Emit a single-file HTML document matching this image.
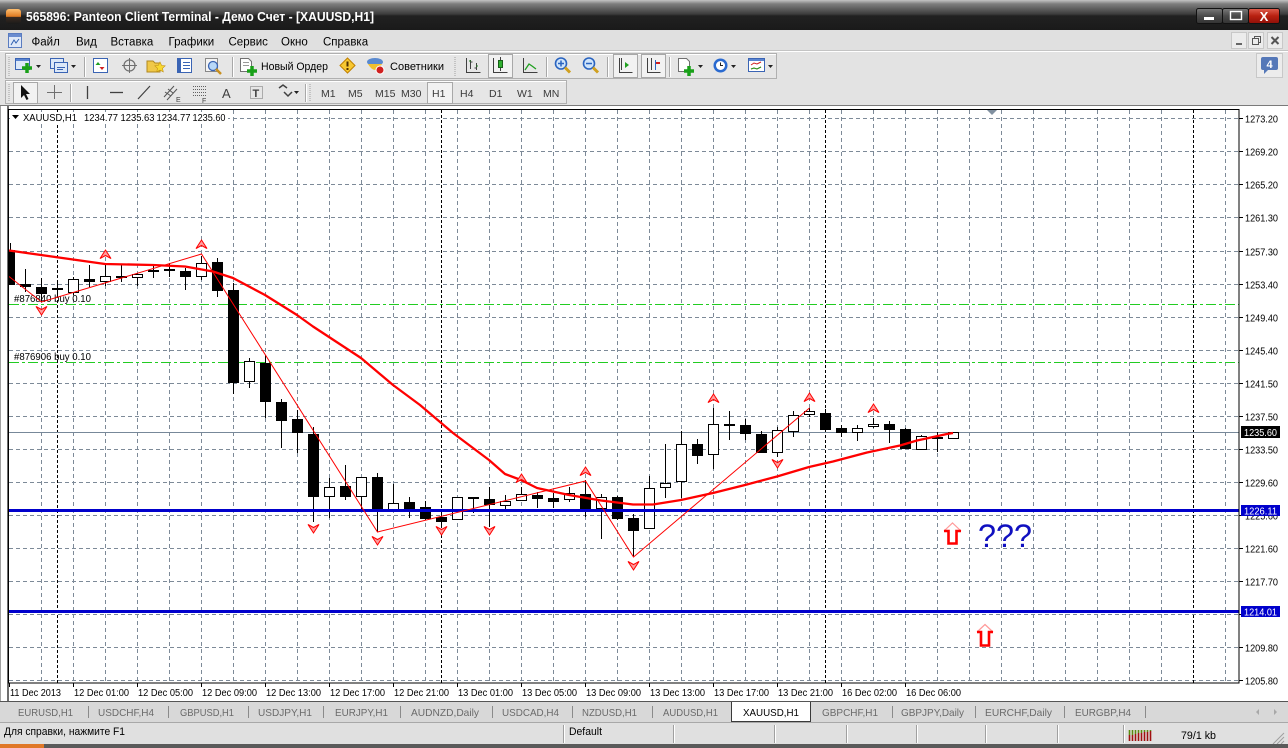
<!DOCTYPE html>
<html><head><meta charset="utf-8">
<style>
html,body{margin:0;padding:0;background:#e0e0e0;overflow:hidden;}
svg{display:block;font-family:"Liberation Sans","DejaVu Sans",sans-serif;}
</style></head><body>
<svg width="1288" height="748" viewBox="0 0 1288 748" xmlns="http://www.w3.org/2000/svg">
<defs>
<linearGradient id="tg" x1="0" y1="0" x2="0" y2="1">
<stop offset="0" stop-color="#c4c4c4"/><stop offset="0.13" stop-color="#7e7e7e"/><stop offset="0.47" stop-color="#3c3c3c"/><stop offset="0.53" stop-color="#212121"/><stop offset="1" stop-color="#1a1a1a"/>
</linearGradient>
<linearGradient id="ico" x1="0" y1="0" x2="0" y2="1">
<stop offset="0" stop-color="#ffc070"/><stop offset="0.5" stop-color="#e07a20"/><stop offset="0.55" stop-color="#3a2a20"/><stop offset="1" stop-color="#1a1a1a"/>
</linearGradient>
<linearGradient id="wb" x1="0" y1="0" x2="0" y2="1">
<stop offset="0" stop-color="#7a7a7a"/><stop offset="0.5" stop-color="#4a4a4a"/><stop offset="1" stop-color="#333"/>
</linearGradient>
<linearGradient id="wr" x1="0" y1="0" x2="0" y2="1">
<stop offset="0" stop-color="#e06050"/><stop offset="0.5" stop-color="#b82010"/><stop offset="1" stop-color="#901008"/>
</linearGradient>
<path id="fu" d="M0,0 L5.5,8.5 L0,5.5 L-5.5,8.5 Z" fill="#ff9c9c" stroke="#ff0000" stroke-width="1"/>
<path id="fd" d="M0,9 L5.5,0.5 L0,3.5 L-5.5,0.5 Z" fill="#ff9c9c" stroke="#ff0000" stroke-width="1"/>
</defs>

<!-- Title bar -->
<rect x="0" y="0" width="1288" height="30" fill="url(#tg)"/>
<rect x="6" y="9" width="15" height="15" rx="3" fill="url(#ico)"/>
<text x="26" y="21" font-size="12.5" font-weight="bold" fill="#ffffff" textLength="348" lengthAdjust="spacingAndGlyphs">565896: Panteon Client Terminal - Демо Счет - [XAUUSD,H1]</text>
<rect x="1196.5" y="8.5" width="26" height="15" rx="2" fill="url(#wb)" stroke="#111"/>
<rect x="1204" y="17" width="10" height="3" fill="#fff"/>
<rect x="1222.5" y="8.5" width="26" height="15" rx="2" fill="url(#wb)" stroke="#111"/>
<rect x="1230.5" y="11.5" width="11" height="8" fill="none" stroke="#fff" stroke-width="1.4"/>
<rect x="1248.5" y="8.5" width="31" height="15" rx="2" fill="url(#wr)" stroke="#111"/>
<text x="1264" y="21" font-size="13" font-weight="bold" fill="#fff" text-anchor="middle">X</text>

<!-- Menu bar -->
<rect x="0" y="30" width="1288" height="21" fill="#e0e0e0"/>
<line x1="0" y1="50.5" x2="1288" y2="50.5" stroke="#c4c4c4"/>
<line x1="0" y1="51.5" x2="1288" y2="51.5" stroke="#ffffff"/>
<rect x="8.5" y="33.5" width="13" height="14" fill="#dfe8f8" stroke="#5a7cc0"/>
<rect x="9" y="34" width="12" height="3" fill="#6a8cd0"/>
<path d="M11 45 L14 40 L16 43 L19 39" fill="none" stroke="#3060b0"/>
<g font-size="11.5" fill="#000">
<text x="31.5" y="45.5">Файл</text>
<text x="76" y="45.5">Вид</text>
<text x="110.5" y="45.5">Вставка</text>
<text x="168.5" y="45.5">Графики</text>
<text x="228.5" y="45.5">Сервис</text>
<text x="281" y="45.5">Окно</text>
<text x="323" y="45.5">Справка</text>
</g>
<rect x="1231.5" y="32.5" width="15" height="16" fill="#ececec" stroke="#c8c8c8"/>
<rect x="1236" y="43" width="6" height="2" fill="#666"/>
<rect x="1248.5" y="32.5" width="15" height="16" fill="#ececec" stroke="#c8c8c8"/>
<rect x="1252.5" y="38.5" width="6" height="6" fill="none" stroke="#555"/>
<path d="M1254.5 38.5V36.5H1260.5V42.5H1258.5" fill="none" stroke="#555"/>
<rect x="1267.5" y="32.5" width="15" height="16" fill="#ececec" stroke="#c8c8c8"/>
<path d="M1271.5 37L1278.5 44M1278.5 37L1271.5 44" stroke="#555" stroke-width="2"/>

<!-- Toolbars background -->
<rect x="0" y="52" width="1288" height="53" fill="#e3e3e3"/>
<line x1="0" y1="105.5" x2="1288" y2="105.5" stroke="#7a7a7a"/>
<rect x="5.5" y="53.5" width="771" height="25" fill="#e6e6e6" stroke="#b0b0b0"/>
<line x1="6" y1="54.5" x2="776" y2="54.5" stroke="#fff"/>
<rect x="5.5" y="80.5" width="561" height="23" fill="#e6e6e6" stroke="#b0b0b0"/>
<line x1="6" y1="81.5" x2="566" y2="81.5" stroke="#fff"/>
<!-- grips -->
<path d="M9 57V76M9 84V101M455 57V76M310 84V101" stroke="#a0a0a0" stroke-dasharray="1,1"/>

<!-- toolbar 1 icons -->
<rect x="15.5" y="58.5" width="14" height="11" fill="#dce8f8" stroke="#3a64b4"/>
<rect x="16" y="59" width="13" height="2" fill="#5a84d0"/>
<path d="M22 68h10M27 63v10" stroke="#18a018" stroke-width="3.5"/>
<path d="M36 65h5l-2.5 3z" fill="#222"/>
<rect x="50.5" y="58.5" width="13" height="10" fill="#dce8f8" stroke="#3a64b4"/>
<rect x="54.5" y="62.5" width="13" height="10" fill="#dce8f8" stroke="#3a64b4"/>
<path d="M57 67.5h8M57 69.5h6" stroke="#3a64b4"/>
<path d="M71 65h5l-2.5 3z" fill="#222"/>
<path d="M84.5 57v20" stroke="#a8a8a8"/><path d="M85.5 57v20" stroke="#fff"/>
<rect x="93.5" y="58.5" width="14" height="14" fill="#fff" stroke="#3a64b4"/>
<path d="M98 62l-2.5 3h5z" fill="#20a020"/><path d="M102 70l-2.5-3h5z" fill="#d02020"/>
<circle cx="129.5" cy="65.5" r="5.5" fill="none" stroke="#707070" stroke-width="1.2"/>
<path d="M129.5 58v15M122 65.5h15" stroke="#707070"/>
<path d="M147 61h6l2 2h5v9h-13z" fill="#f0c848" stroke="#b08820"/>
<path d="M160 62l1.6 3.4 3.6.4-2.7 2.5.8 3.6-3.3-1.8-3.3 1.8.8-3.6-2.7-2.5 3.6-.4z" fill="#f8d830" stroke="#c09010" stroke-width=".6"/>
<rect x="177.5" y="58.5" width="14" height="14" fill="#fff" stroke="#3a64b4"/>
<rect x="178" y="59" width="3" height="13" fill="#3a64b4"/>
<path d="M183 62.5h7M183 65.5h7M183 68.5h7" stroke="#3a64b4"/>
<rect x="205.5" y="58.5" width="12" height="13" fill="#f4f4f4" stroke="#888"/>
<circle cx="213" cy="66" r="4.5" fill="#b8d8f8" stroke="#3a64b4" stroke-width="1.3"/>
<path d="M216 69l5 5" stroke="#c89020" stroke-width="2.5"/>
<path d="M232.5 57v20" stroke="#a8a8a8"/><path d="M233.5 57v20" stroke="#fff"/>
<path d="M240.5 58.5h8l3 3v10h-11z" fill="#fff" stroke="#707070"/>
<path d="M243 62.5h6M243 65.5h6" stroke="#999"/>
<path d="M247 71h10M252 66v10" stroke="#18a018" stroke-width="3.5"/>
<text x="261" y="70" font-size="11" fill="#000" textLength="67" lengthAdjust="spacingAndGlyphs">Новый Ордер</text>
<path d="M347.5 58l7.5 7.5-7.5 7.5-7.5-7.5z" fill="#f8c830" stroke="#c08000"/>
<path d="M347.5 61.5v5" stroke="#503000" stroke-width="2"/><rect x="346.5" y="68" width="2" height="2" fill="#503000"/>
<ellipse cx="375" cy="62" rx="8" ry="4" fill="#5a8ad0"/>
<path d="M368 64q7 12 14 0z" fill="#f0c030"/>
<circle cx="380" cy="70" r="4" fill="#d02020" stroke="#fff"/>
<text x="390" y="70" font-size="11" fill="#000" textLength="54" lengthAdjust="spacingAndGlyphs">Советники</text>
<!-- chart type -->
<path d="M466.5 58v14.5h14M470.5 60v9M470.5 62h2M476.5 63v7M474.5 68h2" fill="none" stroke="#404040"/>
<path d="M471 61h-2M476 66h2" stroke="#208020"/>
<rect x="488.5" y="54.5" width="24" height="23" fill="#f2f2f2" stroke="#a8a8a8"/>
<path d="M493.5 58v14.5h14" fill="none" stroke="#404040"/>
<path d="M500.5 57v14" stroke="#404040"/><rect x="498.5" y="60.5" width="4" height="7" fill="#30b030" stroke="#186018"/>
<path d="M523.5 58v14.5h14" fill="none" stroke="#404040"/>
<path d="M525 70l4-6 3 2 4 3" fill="none" stroke="#20a020" stroke-width="1.3"/>
<path d="M546.5 57v20" stroke="#a8a8a8"/><path d="M547.5 57v20" stroke="#fff"/>
<circle cx="561" cy="63.5" r="5.5" fill="#cfe4fa" stroke="#2a64c0" stroke-width="1.6"/>
<path d="M558 63.5h6M561 60.5v6" stroke="#2a64c0" stroke-width="1.5"/>
<path d="M565 67.5l5 5" stroke="#d0a020" stroke-width="3"/>
<circle cx="589" cy="63.5" r="5.5" fill="#cfe4fa" stroke="#2a64c0" stroke-width="1.6"/>
<path d="M586 63.5h6" stroke="#2a64c0" stroke-width="1.5"/>
<path d="M593 67.5l5 5" stroke="#d0a020" stroke-width="3"/>
<path d="M607.5 57v20" stroke="#a8a8a8"/><path d="M608.5 57v20" stroke="#fff"/>
<rect x="613.5" y="54.5" width="24" height="23" fill="#f2f2f2" stroke="#a8a8a8"/>
<path d="M619.5 58v14.5h13M621.5 58v12" fill="none" stroke="#404040"/>
<path d="M625 62v6l4-3z" fill="#20a020"/>
<rect x="641.5" y="54.5" width="24" height="23" fill="#f2f2f2" stroke="#a8a8a8"/>
<path d="M647.5 58v14.5h13M651.5 58v12" fill="none" stroke="#404040"/>
<path d="M655.5 60v10" stroke="#2a64c0"/><path d="M656 63h4" stroke="#d02020" stroke-width="2"/>
<path d="M669.5 57v20" stroke="#a8a8a8"/><path d="M670.5 57v20" stroke="#fff"/>
<path d="M678.5 58.5h8l3 3v10h-11z" fill="#fff" stroke="#707070"/>
<path d="M684 71h10M689 66v10" stroke="#18a018" stroke-width="3.5"/>
<path d="M698 65h5l-2.5 3z" fill="#222"/>
<circle cx="720.5" cy="65.5" r="7" fill="#2a6ad0"/>
<circle cx="720.5" cy="65.5" r="4.5" fill="#fff"/>
<path d="M720.5 62.5v3h2.5" stroke="#222" fill="none"/>
<path d="M731 65h5l-2.5 3z" fill="#222"/>
<rect x="748.5" y="58.5" width="16" height="13" fill="#fff" stroke="#3a64b4"/>
<rect x="749" y="59" width="15" height="2" fill="#5a84d0"/>
<path d="M751 65l3-2 3 1 4-2M751 69l3-1 3 1 4-2" fill="none" stroke="#d02020"/>
<path d="M751 69l3-1 3 1 4-2" fill="none" stroke="#20a020"/>
<path d="M768 65h5l-2.5 3z" fill="#222"/>

<!-- toolbar 2 -->
<rect x="13.5" y="82.5" width="24" height="21" fill="#f2f2f2" stroke="#a8a8a8"/>
<path d="M21 85v13l3-3 2.5 5 2-1-2.5-5h4z" fill="#111"/>
<path d="M54.5 85v14M47 92.5h15" stroke="#707070"/>
<path d="M70.5 84v18" stroke="#a8a8a8"/><path d="M71.5 84v18" stroke="#fff"/>
<path d="M87.5 86v13" stroke="#404040" stroke-width="1.3"/>
<path d="M110 92.5h13" stroke="#404040" stroke-width="1.3"/>
<path d="M138 99l12-13" stroke="#404040" stroke-width="1.2"/>
<path d="M164 97l10-11M167 100l10-11M165 92l6 4M168 89l5 4" stroke="#555" stroke-width="1"/>
<text x="176" y="102" font-size="7" fill="#404040">E</text>
<path d="M193 86.5h13M193 89.5h13M193 92.5h13M193 95.5h13" stroke="#606060" stroke-dasharray="1,1"/>
<text x="202" y="103" font-size="7" fill="#404040">F</text>
<text x="222" y="98" font-size="13" fill="#404040">A</text>
<rect x="250.5" y="86.5" width="12" height="12" fill="none" stroke="#707070" stroke-dasharray="1,1"/>
<text x="252.5" y="97" font-size="11" font-weight="bold" fill="#404040">T</text>
<path d="M279 88l4-3 4 3M284 92l4 4 4-4" fill="none" stroke="#404040" stroke-width="1.5"/>
<path d="M294 91h5l-2.5 3z" fill="#222"/>
<path d="M305.5 84v18" stroke="#a8a8a8"/><path d="M306.5 84v18" stroke="#fff"/>
<rect x="427.5" y="82.5" width="25" height="21" fill="#f2f2f2" stroke="#a8a8a8"/>
<g font-size="10.5" fill="#3a3a3a">
<text x="321" y="97">M1</text>
<text x="348" y="97">M5</text>
<text x="375" y="97">M15</text>
<text x="401" y="97">M30</text>
<text x="432" y="97">H1</text>
<text x="460" y="97">H4</text>
<text x="489" y="97">D1</text>
<text x="517" y="97">W1</text>
<text x="543" y="97">MN</text>
</g>
<!-- notify -->
<rect x="1256.5" y="53.5" width="26" height="24" fill="#ececec" stroke="#c8c8c8"/>
<rect x="1261" y="57" width="17" height="13" rx="2" fill="#5578b8"/>
<path d="M1264 70v4l4-4z" fill="#5578b8"/>
<text x="1269.5" y="68" font-size="11" font-weight="bold" fill="#fff" text-anchor="middle">4</text>

<!-- Chart window -->
<rect x="0" y="106" width="1288" height="595" fill="#ffffff"/>
<line x1="0.5" y1="106" x2="0.5" y2="701" stroke="#a0a0a0"/>
<rect x="7" y="106" width="2" height="595" fill="#6e6e6e"/>

<!-- grid -->
<path d="M9 118.5H1239M9 151.5H1239M9 184.5H1239M9 217.5H1239M9 251.5H1239M9 284.5H1239M9 317.5H1239M9 350.5H1239M9 383.5H1239M9 416.5H1239M9 449.5H1239M9 482.5H1239M9 515.5H1239M9 548.5H1239M9 581.5H1239M9 614.5H1239M9 647.5H1239M9 680.5H1239" stroke="#7d8a98" stroke-dasharray="4,3" fill="none"/>
<path d="M41.5 110V683M73.5 110V683M105.5 110V683M137.5 110V683M169.5 110V683M201.5 110V683M233.5 110V683M265.5 110V683M297.5 110V683M329.5 110V683M361.5 110V683M393.5 110V683M425.5 110V683M457.5 110V683M489.5 110V683M521.5 110V683M553.5 110V683M585.5 110V683M617.5 110V683M649.5 110V683M681.5 110V683M713.5 110V683M745.5 110V683M777.5 110V683M809.5 110V683M841.5 110V683M873.5 110V683M905.5 110V683M937.5 110V683M969.5 110V683M1001.5 110V683M1033.5 110V683M1065.5 110V683M1097.5 110V683M1129.5 110V683M1161.5 110V683M1225.5 110V683" stroke="#7d8a98" stroke-dasharray="4,3" fill="none"/>
<path d="M57.5 110V683M441.5 110V683M825.5 110V683M1193.5 110V683" stroke="#000" stroke-dasharray="3,2" fill="none"/>

<!-- header text -->
<rect x="10" y="112" width="218" height="12" fill="#fff"/>
<path d="M12 115h7l-3.5 4z" fill="#000"/>
<g font-size="10" fill="#000">
<text x="23" y="121" textLength="54" lengthAdjust="spacingAndGlyphs">XAUUSD,H1</text>
<text x="84" y="121" textLength="34" lengthAdjust="spacingAndGlyphs">1234.77</text>
<text x="120.5" y="121" textLength="34" lengthAdjust="spacingAndGlyphs">1235.63</text>
<text x="156.5" y="121" textLength="34" lengthAdjust="spacingAndGlyphs">1234.77</text>
<text x="192.5" y="121" textLength="33" lengthAdjust="spacingAndGlyphs">1235.60</text>
</g>
<path d="M987 110h10l-5 5z" fill="#8090a0"/>

<!-- current price line -->
<path d="M9 432.5H1239" stroke="#778899"/>
<!-- green order lines -->
<path d="M9 304.5H1239M9 362.5H1239" stroke="#22cc22" stroke-dasharray="10,3,3,3"/>
<text x="14" y="302" font-size="10" fill="#000" textLength="77" lengthAdjust="spacingAndGlyphs">#876840 buy 0.10</text>
<text x="14" y="360" font-size="10" fill="#000" textLength="77" lengthAdjust="spacingAndGlyphs">#876906 buy 0.10</text>

<!-- candles: wicks -->
<path d="M10.5 243V285M25.5 269V292M41.5 278V302M57.5 283V297M73.5 277V295M89.5 265V287M105.5 264V286M121.5 264V282M137.5 273V286M153.5 265V278M169.5 263V277M185.5 268V290M201.5 256V280M217.5 258V297M233.5 283V394M249.5 358V388M265.5 355V418M281.5 399V448M297.5 410V453M313.5 427V522M329.5 478V518M345.5 465V500M361.5 477V510M377.5 473V532M393.5 484V512M409.5 497V518M425.5 501V520M441.5 513V526M457.5 497V520M473.5 497V513M489.5 487V527M505.5 495V510M521.5 487V501M537.5 492V508M553.5 493V508M569.5 487V502M585.5 480V517M601.5 494V539M617.5 496V520M633.5 514V557M649.5 476V529M665.5 444V498M681.5 431V498M697.5 439V464M713.5 408V469M729.5 411V440M745.5 419V440M761.5 431V453M777.5 427V457M793.5 411V437M809.5 408V417M825.5 409V430M841.5 425V437M857.5 425V441M873.5 418V428M889.5 421V443M905.5 428V449M921.5 435V450M937.5 432V452M953.5 432V439" stroke="#000" fill="none"/>
<!-- black bodies -->
<g fill="#000">
<rect x="9" y="250" width="6" height="35"/>
<rect x="20" y="284" width="11" height="3"/>
<rect x="36" y="287" width="11" height="7"/>
<rect x="52" y="288" width="11" height="2"/>
<rect x="84" y="279" width="11" height="3"/>
<rect x="116" y="276" width="11" height="2"/>
<rect x="164" y="269" width="11" height="2"/>
<rect x="180" y="271" width="11" height="6"/>
<rect x="212" y="262" width="11" height="29"/>
<rect x="228" y="290" width="11" height="93"/>
<rect x="260" y="363" width="11" height="39"/>
<rect x="276" y="402" width="11" height="19"/>
<rect x="292" y="419" width="11" height="14"/>
<rect x="308" y="434" width="11" height="63"/>
<rect x="340" y="486" width="11" height="11"/>
<rect x="372" y="477" width="11" height="35"/>
<rect x="404" y="502" width="11" height="7"/>
<rect x="420" y="507" width="11" height="12"/>
<rect x="436" y="517" width="11" height="5"/>
<rect x="468" y="497" width="11" height="2"/>
<rect x="484" y="499" width="11" height="6"/>
<rect x="532" y="495" width="11" height="4"/>
<rect x="548" y="498" width="11" height="4"/>
<rect x="580" y="494" width="11" height="16"/>
<rect x="612" y="497" width="11" height="22"/>
<rect x="628" y="518" width="11" height="13"/>
<rect x="692" y="444" width="11" height="12"/>
<rect x="724" y="424" width="11" height="2"/>
<rect x="740" y="425" width="11" height="9"/>
<rect x="756" y="434" width="11" height="19"/>
<rect x="820" y="413" width="11" height="17"/>
<rect x="836" y="428" width="11" height="5"/>
<rect x="884" y="424" width="11" height="6"/>
<rect x="900" y="429" width="11" height="20"/>
<rect x="932" y="437" width="11" height="2"/>
</g>
<!-- white bodies -->
<g fill="#fff" stroke="#000">
<rect x="68.5" y="279.5" width="10" height="13"/>
<rect x="100.5" y="276.5" width="10" height="5"/>
<rect x="132.5" y="274.5" width="10" height="3"/>
<rect x="148.5" y="270.5" width="10" height="1"/>
<rect x="196.5" y="263.5" width="10" height="13"/>
<rect x="244.5" y="361.5" width="10" height="20"/>
<rect x="324.5" y="487.5" width="10" height="9"/>
<rect x="356.5" y="477.5" width="10" height="19"/>
<rect x="388.5" y="503.5" width="10" height="7"/>
<rect x="452.5" y="497.5" width="10" height="22"/>
<rect x="500.5" y="501.5" width="10" height="4"/>
<rect x="516.5" y="494.5" width="10" height="6"/>
<rect x="564.5" y="493.5" width="10" height="6"/>
<rect x="596.5" y="497.5" width="10" height="11"/>
<rect x="644.5" y="488.5" width="10" height="40"/>
<rect x="660.5" y="483.5" width="10" height="4"/>
<rect x="676.5" y="444.5" width="10" height="37"/>
<rect x="708.5" y="424.5" width="10" height="30"/>
<rect x="772.5" y="430.5" width="10" height="22"/>
<rect x="788.5" y="415.5" width="10" height="16"/>
<rect x="804.5" y="411.5" width="10" height="3"/>
<rect x="852.5" y="428.5" width="10" height="4"/>
<rect x="868.5" y="424.5" width="10" height="2"/>
<rect x="916.5" y="436.5" width="10" height="13"/>
<rect x="948.5" y="432.5" width="10" height="6"/>
</g>

<!-- blue support lines -->
<rect x="9" y="509" width="1230" height="3" fill="#0000cc"/>
<rect x="9" y="610" width="1230" height="3" fill="#0000cc"/>

<!-- moving average -->
<path d="M9,250.5 L105,264 L153,265 L185,266.5 L213,271.5 L233,278 L265,295 L297,315 L313,326.5 L361,358 L393,385 L420,405 L453,433 L489,460 L505,474 L521,480 L537,488 L569,495 L601,500.5 L633,504.5 L653,504.5 L681,500 L713,493 L745,485 L777,476.5 L809,467 L833,461.5 L867,452.5 L900,445.5 L917,440.5 L947,434 L953,433" fill="none" stroke="#ff0000" stroke-width="2.3" stroke-linejoin="round"/>
<!-- zigzag -->
<path d="M9,276.5 L41.5,302 L201.5,254 L377.5,532 L585.5,481 L633.5,557 L809.5,408" fill="none" stroke="#ff0000" stroke-width="1"/>

<!-- fractals -->
<use href="#fu" x="105.5" y="250"/>
<use href="#fu" x="201.5" y="240"/>
<use href="#fu" x="521.5" y="474"/>
<use href="#fu" x="585.5" y="467"/>
<use href="#fu" x="713.5" y="394"/>
<use href="#fu" x="809.5" y="393"/>
<use href="#fu" x="873.5" y="404"/>
<use href="#fd" x="41.5" y="306"/>
<use href="#fd" x="313.5" y="524"/>
<use href="#fd" x="377.5" y="536"/>
<use href="#fd" x="441.5" y="526"/>
<use href="#fd" x="489.5" y="526"/>
<use href="#fd" x="633.5" y="561"/>
<use href="#fd" x="777.5" y="459"/>

<!-- hollow red arrows -->
<path d="M944,531 L952.5,523 L961,531" fill="none" stroke="#ff9a9a" stroke-width="1.2"/>
<path d="M944,531 H948.5 V543.5 H956.5 V531 H961" fill="none" stroke="#ff0000" stroke-width="2.6"/>
<path d="M977,632 L985,624.5 L993,632" fill="none" stroke="#ff9a9a" stroke-width="1.2"/>
<path d="M977,632 H981 V645.5 H989 V632 H993" fill="none" stroke="#ff0000" stroke-width="2.6"/>
<text x="978" y="547" font-size="32" fill="#1010c0" textLength="54" lengthAdjust="spacingAndGlyphs">???</text>

<!-- plot frame -->
<rect x="8.5" y="109.5" width="1230.5" height="573.5" fill="none" stroke="#000"/>

<!-- price axis -->
<path d="M1239 118.5h4M1239 151.5h4M1239 184.5h4M1239 217.5h4M1239 251.5h4M1239 284.5h4M1239 317.5h4M1239 350.5h4M1239 383.5h4M1239 416.5h4M1239 449.5h4M1239 482.5h4M1239 515.5h4M1239 548.5h4M1239 581.5h4M1239 614.5h4M1239 647.5h4M1239 680.5h4" stroke="#000"/>
<g font-size="10" fill="#000">
<text x="1245" y="122.5" textLength="33" lengthAdjust="spacingAndGlyphs">1273.20</text>
<text x="1245" y="155.5" textLength="33" lengthAdjust="spacingAndGlyphs">1269.20</text>
<text x="1245" y="188.5" textLength="33" lengthAdjust="spacingAndGlyphs">1265.20</text>
<text x="1245" y="221.5" textLength="33" lengthAdjust="spacingAndGlyphs">1261.30</text>
<text x="1245" y="255.5" textLength="33" lengthAdjust="spacingAndGlyphs">1257.30</text>
<text x="1245" y="288.5" textLength="33" lengthAdjust="spacingAndGlyphs">1253.40</text>
<text x="1245" y="321.5" textLength="33" lengthAdjust="spacingAndGlyphs">1249.40</text>
<text x="1245" y="354.5" textLength="33" lengthAdjust="spacingAndGlyphs">1245.40</text>
<text x="1245" y="387.5" textLength="33" lengthAdjust="spacingAndGlyphs">1241.50</text>
<text x="1245" y="420.5" textLength="33" lengthAdjust="spacingAndGlyphs">1237.50</text>
<text x="1245" y="453.5" textLength="33" lengthAdjust="spacingAndGlyphs">1233.50</text>
<text x="1245" y="486.5" textLength="33" lengthAdjust="spacingAndGlyphs">1229.60</text>
<text x="1245" y="519.5" textLength="33" lengthAdjust="spacingAndGlyphs">1225.60</text>
<text x="1245" y="552.5" textLength="33" lengthAdjust="spacingAndGlyphs">1221.60</text>
<text x="1245" y="585.5" textLength="33" lengthAdjust="spacingAndGlyphs">1217.70</text>
<text x="1245" y="651.5" textLength="33" lengthAdjust="spacingAndGlyphs">1209.80</text>
<text x="1245" y="684.5" textLength="33" lengthAdjust="spacingAndGlyphs">1205.80</text>
</g>
<rect x="1241" y="426" width="39" height="12" fill="#000"/>
<text x="1244" y="436" font-size="10" fill="#fff" textLength="33" lengthAdjust="spacingAndGlyphs">1235.60</text>
<rect x="1241" y="505" width="39" height="11" fill="#0000cc"/>
<text x="1244" y="514.5" font-size="10" fill="#fff" textLength="33" lengthAdjust="spacingAndGlyphs">1226.11</text>
<rect x="1241" y="606" width="39" height="11" fill="#0000cc"/>
<text x="1244" y="615.5" font-size="10" fill="#fff" textLength="33" lengthAdjust="spacingAndGlyphs">1214.01</text>

<!-- time axis -->
<path d="M9.5 683v4M73.5 683v4M137.5 683v4M201.5 683v4M265.5 683v4M329.5 683v4M393.5 683v4M457.5 683v4M521.5 683v4M585.5 683v4M649.5 683v4M713.5 683v4M777.5 683v4M841.5 683v4M905.5 683v4" stroke="#000"/>
<g font-size="10" fill="#000">
<text x="10" y="696" textLength="51" lengthAdjust="spacingAndGlyphs">11 Dec 2013</text>
<text x="74" y="696" textLength="55" lengthAdjust="spacingAndGlyphs">12 Dec 01:00</text>
<text x="138" y="696" textLength="55" lengthAdjust="spacingAndGlyphs">12 Dec 05:00</text>
<text x="202" y="696" textLength="55" lengthAdjust="spacingAndGlyphs">12 Dec 09:00</text>
<text x="266" y="696" textLength="55" lengthAdjust="spacingAndGlyphs">12 Dec 13:00</text>
<text x="330" y="696" textLength="55" lengthAdjust="spacingAndGlyphs">12 Dec 17:00</text>
<text x="394" y="696" textLength="55" lengthAdjust="spacingAndGlyphs">12 Dec 21:00</text>
<text x="458" y="696" textLength="55" lengthAdjust="spacingAndGlyphs">13 Dec 01:00</text>
<text x="522" y="696" textLength="55" lengthAdjust="spacingAndGlyphs">13 Dec 05:00</text>
<text x="586" y="696" textLength="55" lengthAdjust="spacingAndGlyphs">13 Dec 09:00</text>
<text x="650" y="696" textLength="55" lengthAdjust="spacingAndGlyphs">13 Dec 13:00</text>
<text x="714" y="696" textLength="55" lengthAdjust="spacingAndGlyphs">13 Dec 17:00</text>
<text x="778" y="696" textLength="55" lengthAdjust="spacingAndGlyphs">13 Dec 21:00</text>
<text x="842" y="696" textLength="55" lengthAdjust="spacingAndGlyphs">16 Dec 02:00</text>
<text x="906" y="696" textLength="55" lengthAdjust="spacingAndGlyphs">16 Dec 06:00</text>
</g>

<!-- Tabs bar -->
<line x1="0" y1="701.5" x2="1288" y2="701.5" stroke="#555"/>
<rect x="0" y="702" width="1288" height="20" fill="#d8d8d8"/>
<rect x="731.5" y="702.5" width="79" height="19" fill="#ffffff" stroke="#3a3a3a"/>
<line x1="732" y1="702.5" x2="810" y2="702.5" stroke="#fff"/>
<path d="M88.5 706v12M168.5 706v12M248.5 706v12M323.5 706v12M400.5 706v12M492.5 706v12M572.5 706v12M652.5 706v12M892.5 706v12M975.5 706v12M1064.5 706v12M1145.5 706v12" stroke="#8a8a8a"/>
<g font-size="10.5" fill="#6a6a6a">
<text x="18" y="716" textLength="55" lengthAdjust="spacingAndGlyphs">EURUSD,H1</text>
<text x="98" y="716" textLength="56" lengthAdjust="spacingAndGlyphs">USDCHF,H4</text>
<text x="180" y="716" textLength="54" lengthAdjust="spacingAndGlyphs">GBPUSD,H1</text>
<text x="258" y="716" textLength="54" lengthAdjust="spacingAndGlyphs">USDJPY,H1</text>
<text x="335" y="716" textLength="53" lengthAdjust="spacingAndGlyphs">EURJPY,H1</text>
<text x="411" y="716" textLength="68" lengthAdjust="spacingAndGlyphs">AUDNZD,Daily</text>
<text x="502" y="716" textLength="57" lengthAdjust="spacingAndGlyphs">USDCAD,H4</text>
<text x="582" y="716" textLength="55" lengthAdjust="spacingAndGlyphs">NZDUSD,H1</text>
<text x="663" y="716" textLength="55" lengthAdjust="spacingAndGlyphs">AUDUSD,H1</text>
<text x="822" y="716" textLength="56" lengthAdjust="spacingAndGlyphs">GBPCHF,H1</text>
<text x="901" y="716" textLength="63" lengthAdjust="spacingAndGlyphs">GBPJPY,Daily</text>
<text x="985" y="716" textLength="67" lengthAdjust="spacingAndGlyphs">EURCHF,Daily</text>
<text x="1075" y="716" textLength="56" lengthAdjust="spacingAndGlyphs">EURGBP,H4</text>
</g>
<text x="743" y="716" font-size="10.5" fill="#000" textLength="56" lengthAdjust="spacingAndGlyphs">XAUUSD,H1</text>
<path d="M1259 709v6l-3-3zM1274 709v6l3-3z" fill="#a8a8a8"/>

<!-- Status bar -->
<line x1="0" y1="722.5" x2="1288" y2="722.5" stroke="#a8a8a8"/>
<rect x="0" y="723" width="1288" height="21" fill="#e0e0e0"/>
<text x="4" y="735" font-size="11" fill="#000" textLength="121" lengthAdjust="spacingAndGlyphs">Для справки, нажмите F1</text>
<path d="M563.5 725v18M673.5 725v18M774.5 725v18M846.5 725v18M916.5 725v18M985.5 725v18M1057.5 725v18M1123.5 725v18" stroke="#a0a0a0"/>
<path d="M564.5 725v18M674.5 725v18M775.5 725v18M847.5 725v18M917.5 725v18M986.5 725v18M1058.5 725v18M1124.5 725v18" stroke="#fff"/>
<text x="569" y="735" font-size="11" fill="#000" textLength="33" lengthAdjust="spacingAndGlyphs">Default</text>
<g>
<path d="M1129.5 730v5M1132.5 730v5M1135.5 730v4M1138.5 730v3M1141.5 730v3M1144.5 730v2M1147.5 730v2M1150.5 730v1" stroke="#5a8a10" stroke-width="1.6"/>
<path d="M1129.5 735v6M1132.5 735v6M1135.5 734v7M1138.5 733v8M1141.5 733v8M1144.5 732v9M1147.5 732v9M1150.5 731v10" stroke="#a01010" stroke-width="1.6"/>
</g>
<text x="1181" y="739" font-size="11" fill="#000" textLength="35" lengthAdjust="spacingAndGlyphs">79/1 kb</text>
<path d="M1284 733l-11 11M1284 737l-7 7M1284 741l-3 3" stroke="#a0a0a0"/>
<rect x="0" y="744" width="1288" height="4" fill="#5a5a5a"/>
<rect x="0" y="744" width="44" height="4" fill="#e07828"/>
</svg>
</body></html>
